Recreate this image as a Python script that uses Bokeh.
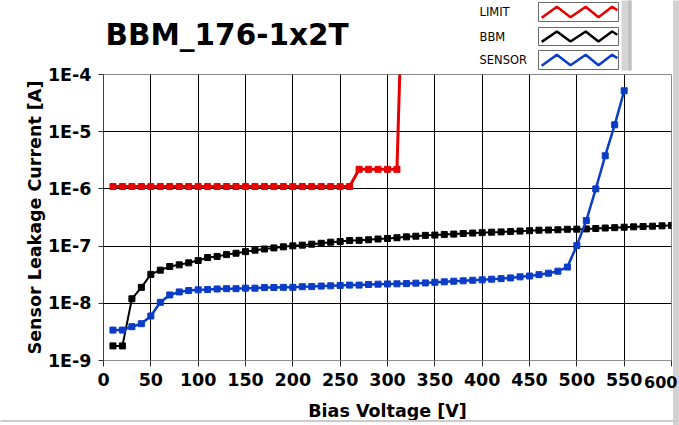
from bokeh.plotting import figure
from bokeh.models import Range1d, FixedTicker, LinearScale
from bokeh.core.properties import value
from bokeh.embed import file_html
from bokeh.resources import INLINE

# ---------------- data ----------------
title_text = "BBM_176-1x2T"
x_title = "Bias Voltage [V]"
y_title = "Sensor Leakage Current [A]"

x_ticks = [0, 50, 100, 150, 200, 250, 300, 350, 400, 450, 500, 550, 600]
y_ticks = [1e-9, 1e-8, 1e-7, 1e-6, 1e-5, 1e-4]
y_tick_labels = ["1E-9", "1E-8", "1E-7", "1E-6", "1E-5", "1E-4"]

legend_names = ["LIMIT", "BBM", "SENSOR"]
series_colors = ["#e60000", "#000000", "#0a3cc8"]

limit_v = [10, 20, 30, 40, 50, 60, 70, 80, 90, 100, 110, 120, 130, 140, 150,
           160, 170, 180, 190, 200, 210, 220, 230, 240, 250, 260, 270, 280,
           290, 300, 310, 320]
limit_i = [1.1e-6, 1.1e-6, 1.1e-6, 1.1e-6, 1.1e-6, 1.1e-6, 1.1e-6, 1.1e-6,
           1.1e-6, 1.1e-6, 1.1e-6, 1.1e-6, 1.1e-6, 1.1e-6, 1.1e-6, 1.1e-6,
           1.1e-6, 1.1e-6, 1.1e-6, 1.1e-6, 1.1e-6, 1.1e-6, 1.1e-6, 1.1e-6,
           1.1e-6, 1.1e-6, 2.2e-6, 2.2e-6, 2.2e-6, 2.2e-6, 2.2e-6, 1.0]

bbm_v = [10, 20, 30, 40, 50, 60, 70, 80, 90, 100, 110, 120, 130, 140, 150,
         160, 170, 180, 190, 200, 210, 220, 230, 240, 250, 260, 270, 280, 290,
         300, 310, 320, 330, 340, 350, 360, 370, 380, 390, 400, 410, 420, 430,
         440, 450, 460, 470, 480, 490, 500, 510, 520, 530, 540, 550, 560, 570,
         580, 590, 600]
bbm_i = [1.8e-9, 1.8e-9, 1.2e-8, 1.9e-8, 3.2e-8, 3.8e-8, 4.4e-8, 4.7e-8,
         5.1e-8, 5.6e-8, 6.3e-8, 6.6e-8, 7.1e-8, 7.5e-8, 8.0e-8, 8.5e-8,
         8.9e-8, 9.3e-8, 9.7e-8, 1.01e-7, 1.04e-7, 1.08e-7, 1.12e-7, 1.17e-7,
         1.2e-7, 1.25e-7, 1.26e-7, 1.29e-7, 1.33e-7, 1.36e-7, 1.4e-7, 1.45e-7,
         1.49e-7, 1.54e-7, 1.56e-7, 1.6e-7, 1.62e-7, 1.66e-7, 1.69e-7, 1.72e-7,
         1.75e-7, 1.77e-7, 1.8e-7, 1.83e-7, 1.86e-7, 1.9e-7, 1.91e-7, 1.93e-7,
         1.97e-7, 1.98e-7, 2.0e-7, 2.03e-7, 2.07e-7, 2.1e-7, 2.14e-7, 2.17e-7,
         2.2e-7, 2.23e-7, 2.26e-7, 2.3e-7]

sensor_v = [10, 20, 30, 40, 50, 60, 70, 80, 90, 100, 110, 120, 130, 140, 150,
            160, 170, 180, 190, 200, 210, 220, 230, 240, 250, 260, 270, 280,
            290, 300, 310, 320, 330, 340, 350, 360, 370, 380, 390, 400, 410,
            420, 430, 440, 450, 460, 470, 480, 490, 500, 510, 520, 530, 540, 550]
sensor_i = [3.4e-9, 3.4e-9, 3.9e-9, 4.4e-9, 6.0e-9, 1.04e-8, 1.4e-8, 1.58e-8,
            1.67e-8, 1.72e-8, 1.74e-8, 1.78e-8, 1.8e-8, 1.8e-8, 1.84e-8,
            1.84e-8, 1.88e-8, 1.89e-8, 1.9e-8, 1.9e-8, 1.95e-8, 1.96e-8,
            2.0e-8, 2.02e-8, 2.05e-8, 2.08e-8, 2.08e-8, 2.13e-8, 2.16e-8,
            2.18e-8, 2.19e-8, 2.21e-8, 2.25e-8, 2.27e-8, 2.33e-8, 2.37e-8,
            2.43e-8, 2.47e-8, 2.53e-8, 2.57e-8, 2.64e-8, 2.7e-8, 2.78e-8,
            2.9e-8, 3.0e-8, 3.17e-8, 3.36e-8, 3.64e-8, 4.3e-8, 1.02e-7, 2.8e-7,
            1.0e-6, 3.8e-6, 1.32e-5, 5.2e-5]

# ---------------- layout (page pixel coordinates) ----------------
W, H = 679, 425
FL, FR, FT, FB = 103, 671, 74, 360      # plot frame edges
FONT = "DejaVu Sans"
TICK_FONT_SIZE = "17.5px"

p = figure(width=W, height=H, output_backend="svg", toolbar_location=None,
           x_range=Range1d(x_ticks[0], x_ticks[-1]),
           y_range=Range1d(y_ticks[0], y_ticks[-1]), y_axis_type="log",
           min_border_left=FL, min_border_right=W - FR,
           min_border_top=FT, min_border_bottom=H - FB)
p.background_fill_color = "white"
p.border_fill_color = "white"
p.outline_line_color = "#8a8a8a"

# pixel-space ranges used only for the title and the decorative legend panel
p.extra_x_ranges = {"px": Range1d(FL, FR)}
p.extra_y_ranges = {"px": Range1d(FB, FT)}
p.extra_y_scales = {"px": LinearScale()}
PX = dict(x_range_name="px", y_range_name="px", level="overlay")

xa = p.xaxis[0]
ya = p.yaxis[0]
xa.ticker = FixedTicker(ticks=x_ticks)
ya.ticker = FixedTicker(ticks=y_ticks)
ya.major_label_overrides = {t: lab for t, lab in zip(y_ticks, y_tick_labels)}
# the last x label would run past the window edge; it is drawn separately
xa.major_label_overrides = {x_ticks[-1]: ""}
xa.axis_label = x_title
ya.axis_label = y_title
for ax in (xa, ya):
    ax.major_label_text_font = FONT
    ax.major_label_text_font_style = "bold"
    ax.major_label_text_font_size = TICK_FONT_SIZE
    ax.major_label_text_color = "black"
    ax.axis_label_text_font = FONT
    ax.axis_label_text_font_style = "bold"
    ax.axis_label_text_font_size = "17.5px"
    ax.axis_label_text_color = "black"
    ax.minor_tick_line_color = None
    ax.major_tick_in = 0
    ax.major_tick_line_color = "#303030"
xa.major_tick_out = 6
xa.major_label_standoff = 6
xa.axis_label_standoff = 12
xa.axis_line_color = "#909090"
ya.major_tick_out = 5
ya.major_label_standoff = 7
ya.axis_label_standoff = 0
ya.axis_line_color = "#404040"

p.xgrid.ticker = FixedTicker(ticks=x_ticks)
p.ygrid.ticker = FixedTicker(ticks=y_ticks)
for g in (p.xgrid[0], p.ygrid[0]):
    g.grid_line_color = "black"
    g.grid_line_width = 1
    g.grid_line_alpha = 1.0
p.ygrid[0].minor_grid_line_color = None

# ---------------- series ----------------
series = [(limit_v, limit_i, 3.0), (bbm_v, bbm_i, 2.0), (sensor_v, sensor_i, 2.5)]
for (v, i, lw), col in zip(series, series_colors):
    p.line(v, i, line_color=col, line_width=lw)
    p.scatter(v, i, marker="square", size=6, fill_color=col, line_color=col)

# ---------------- title ----------------
p.text(x=[105], y=[34.5], text=[title_text], text_font=value(FONT),
       text_font_style="bold", text_font_size="29.5px", text_color="black",
       text_align="left", text_baseline="middle", **PX)

# ---------------- LabVIEW style legend panel (pixel space) ----------------
p.quad(left=[621], right=[631], top=[0], bottom=[70],
       fill_color="#d4d4d4", line_color=None, **PX)
p.quad(left=[628], right=[631], top=[0], bottom=[70],
       fill_color="#bdbdbd", line_color=None, **PX)

box_left, box_right = 538, 618
box_rows = [(2, 21), (27, 45), (50, 69)]
xf = [0.04, 0.23, 0.40, 0.59, 0.75, 0.92, 0.985]
yf = [0.80, 0.22, 0.78, 0.22, 0.78, 0.22, 0.40]
for name, col, (bt, bb) in zip(legend_names, series_colors, box_rows):
    p.quad(left=[box_left], right=[box_right], top=[bt], bottom=[bb],
           fill_color="white", line_color="#6a6a6a", line_width=1, **PX)
    px = [box_left + f * (box_right - box_left) for f in xf]
    py = [bt + f * (bb - bt) for f in yf]
    p.line(px, py, line_color=col, line_width=2.5, **PX)
    p.scatter(px[1:-1], py[1:-1], marker="square", size=5,
              fill_color=col, line_color=col, **PX)
    p.text(x=[479], y=[(bt + bb) / 2], text=[name], text_font=value(FONT),
           text_font_size="11.5px", text_color="black",
           text_baseline="middle", **PX)

# window frame edges of the original screenshot
p.quad(left=[672.5], right=[679], top=[0], bottom=[425],
       fill_color="#d2d2d2", line_color=None, **PX)
p.quad(left=[0], right=[679], top=[419.5], bottom=[421.5],
       fill_color="#cccccc", line_color=None, **PX)

# last x tick label, kept inside the window
p.text(x=[677], y=[381.5], text=[str(x_ticks[-1])], text_font=value(FONT),
       text_font_style="bold", text_font_size="16px",
       text_color="black", text_align="right", text_baseline="middle", **PX)

open("out.html", "w").write(file_html(p, INLINE))
